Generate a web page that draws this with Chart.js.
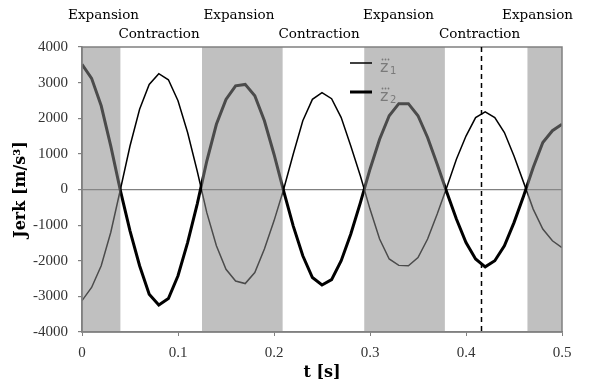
<!DOCTYPE html>
<html>
<head>
<meta charset="utf-8">
<script src="https://cdn.jsdelivr.net/npm/chart.js@4.4.0/dist/chart.umd.min.js"></script>
<style>
	html, body { margin: 0; padding: 0; background: #fff; }
	#jerkChart { display: block; }
</style>
</head>
<body>
<canvas id="jerkChart" width="590" height="383"></canvas>
<script>
// time samples [s]
const times = [
	0, 0.01, 0.02, 0.03, 0.04, 0.05, 0.06, 0.07, 0.08, 0.09,
	0.10, 0.11, 0.12, 0.13, 0.14, 0.15, 0.16, 0.17, 0.18, 0.19,
	0.20, 0.21, 0.22, 0.23, 0.24, 0.25, 0.26, 0.27, 0.28, 0.29,
	0.30, 0.31, 0.32, 0.33, 0.34, 0.35, 0.36, 0.37, 0.38, 0.39,
	0.40, 0.41, 0.42, 0.43, 0.44, 0.45, 0.46, 0.47, 0.48, 0.49,
	0.50
]

// jerk of z1 (thin line) [m/s^3]
const jerkZ1 = [
	-3120, -2750, -2140, -1200, 0, 1220, 2250, 2950, 3250, 3080,
	2490, 1600, 520, -650, -1580, -2240, -2570, -2640, -2330, -1670,
	-880, 0, 990, 1930, 2530, 2720, 2550, 2020, 1220, 380,
	-550, -1390, -1950, -2130, -2140, -1910, -1390, -690, 60, 850,
	1500, 2020, 2180, 2020, 1600, 940, 200, -550, -1110, -1440,
	-1630
]

// jerk of z2 (thick line) [m/s^3]
const jerkZ2 = [
	3510, 3120, 2350, 1220, -30, -1160, -2140, -2940, -3240, -3060,
	-2420, -1490, -410, 800, 1830, 2530, 2910, 2950, 2630, 1930,
	990, -40, -1020, -1860, -2470, -2680, -2530, -2000, -1250, -370,
	570, 1410, 2070, 2410, 2410, 2070, 1460, 710, -80, -830,
	-1490, -1950, -2170, -2000, -1580, -930, -180, 620, 1320, 1650,
	1830
]

// shaded expansion phases [s]
const expansionBands = [[0, 0.04], [0.125, 0.209], [0.294, 0.378], [0.464, 0.5]]

// phase names above the plot, anchored at a time [s]
const phaseLabels = [
	{ text: 'Expansion', t: 0.0224, row: 0 },
	{ text: 'Contraction', t: 0.0802, row: 1 },
	{ text: 'Expansion', t: 0.1635, row: 0 },
	{ text: 'Contraction', t: 0.2469, row: 1 },
	{ text: 'Expansion', t: 0.3297, row: 0 },
	{ text: 'Contraction', t: 0.4141, row: 1 },
	{ text: 'Expansion', t: 0.4745, row: 0 }
]

const markerTime = 0.416

const xTickValues = [0, 0.1, 0.2, 0.3, 0.4, 0.5]
const xTickLabels = ['0', '0.1', '0.2', '0.3', '0.4', '0.5']
const yTickValues = [-4000, -3000, -2000, -1000, 0, 1000, 2000, 3000, 4000]
const yTickLabels = ['-4000', '-3000', '-2000', '-1000', '0', '1000', '2000', '3000', '4000']

const seriesNames = ['1', '2']

const AXIS_GRAY = '#808080'
const TICK_FONT = { family: '"Liberation Serif", serif', size: 15 }

/**
 * Shading, dashed marker, phase names and the little legend.
 */
const phasePlugin = {
	id: 'phases',
	afterDatasetsDraw(chart) {
		const { ctx, chartArea: area, scales: { x } } = chart
		const w = area.right - area.left
		const h = area.bottom - area.top

		ctx.save()
		ctx.beginPath()
		ctx.rect(area.left, area.top, w, h)
		ctx.clip()
		ctx.fillStyle = 'rgba(139, 139, 139, 0.54)'
		expansionBands.forEach(([a, b]) => {
			const x0 = x.getPixelForValue(a)
			const x1 = x.getPixelForValue(b)
			ctx.fillRect(x0, area.top, x1 - x0, h)
		})
		ctx.restore()

		ctx.save()
		ctx.strokeStyle = AXIS_GRAY
		ctx.lineWidth = 1.5
		ctx.strokeRect(area.left, area.top, w, h)

		// dashed marker
		const mx = Math.round(x.getPixelForValue(markerTime)) + 0.5
		ctx.strokeStyle = '#000'
		ctx.lineWidth = 1.5
		ctx.setLineDash([5, 4])
		ctx.beginPath()
		ctx.moveTo(mx, area.top)
		ctx.lineTo(mx, area.bottom)
		ctx.stroke()
		ctx.setLineDash([])

		// phase names
		ctx.font = '13.5px "DejaVu Serif", serif'
		ctx.fillStyle = '#000'
		ctx.textAlign = 'center'
		ctx.textBaseline = 'alphabetic'
		phaseLabels.forEach((label) => {
			const baseY = label.row ? area.top - 9 : area.top - 28
			ctx.fillText(label.text, x.getPixelForValue(label.t), baseY)
		})

		// legend
		const lx = area.left + 268
		seriesNames.forEach((name, i) => {
			const ly = area.top + 16 + i * 29
			ctx.strokeStyle = '#000'
			ctx.lineWidth = i ? 3 : 1.5
			ctx.beginPath()
			ctx.moveTo(lx, ly)
			ctx.lineTo(lx + 22, ly)
			ctx.stroke()

			ctx.fillStyle = '#7a7a7a'
			ctx.textAlign = 'left'
			ctx.font = '16px "DejaVu Sans", sans-serif'
			ctx.fillText('z', lx + 30, ly + 9)
			for (let d = 0; d < 3; d++) {
				ctx.beginPath()
				ctx.arc(lx + 32.5 + d * 3, ly - 3.5, 0.9, 0, Math.PI * 2)
				ctx.fill()
			}
			ctx.font = '10px "DejaVu Sans", sans-serif'
			ctx.fillText(name, lx + 40, ly + 11)
		})
		ctx.restore()
	}
}

const chart = new Chart(document.getElementById('jerkChart'), {
	type: 'line',
	data: {
		datasets: [
			{
				label: 'z1',
				data: times.map((t, i) => ({ x: t, y: jerkZ1[i] })),
				borderColor: '#000',
				borderWidth: 1.5,
				pointRadius: 0,
				tension: 0
			},
			{
				label: 'z2',
				data: times.map((t, i) => ({ x: t, y: jerkZ2[i] })),
				borderColor: '#000',
				borderWidth: 3,
				pointRadius: 0,
				tension: 0
			}
		]
	},
	options: {
		responsive: false,
		animation: false,
		devicePixelRatio: 1,
		layout: { padding: { top: 47, right: 28, bottom: 0, left: 0 } },
		plugins: {
			legend: { display: false },
			tooltip: { enabled: false }
		},
		scales: {
			x: {
				type: 'linear',
				min: 0,
				max: 0.5,
				afterBuildTicks: (scale) => { scale.ticks = xTickValues.map((v) => ({ value: v })) },
				afterFit: (scale) => { scale.height = 51 },
				ticks: {
					callback: (v, i) => xTickLabels[i],
					font: TICK_FONT,
					color: '#333',
					padding: 8,
					maxRotation: 0
				},
				grid: { drawOnChartArea: false, tickLength: 4, color: AXIS_GRAY },
				border: { color: AXIS_GRAY, width: 1.5 },
				title: {
					display: true,
					text: 't [s]',
					color: '#000',
					font: { family: '"DejaVu Serif", serif', size: 16, weight: 'bold' },
					padding: { top: 0, bottom: 1 }
				}
			},
			y: {
				min: -4000,
				max: 4000,
				afterBuildTicks: (scale) => { scale.ticks = yTickValues.map((v) => ({ value: v })) },
				afterFit: (scale) => { scale.width = 82 },
				ticks: {
					callback: (v, i) => yTickLabels[i],
					font: TICK_FONT,
					color: '#333',
					padding: 10
				},
				grid: {
					color: (c) => (c.tick && c.tick.value === 0 ? AXIS_GRAY : 'rgba(0,0,0,0)'),
					tickColor: AXIS_GRAY,
					tickLength: 4,
					lineWidth: 1.2
				},
				border: { color: AXIS_GRAY, width: 1.5 },
				title: {
					display: true,
					text: 'Jerk [m/s³]',
					color: '#000',
					font: { family: '"DejaVu Serif", serif', size: 16, weight: 'bold' },
					padding: { top: 11, bottom: 0 }
				}
			}
		}
	},
	plugins: [phasePlugin]
})
</script>
</body>
</html>
